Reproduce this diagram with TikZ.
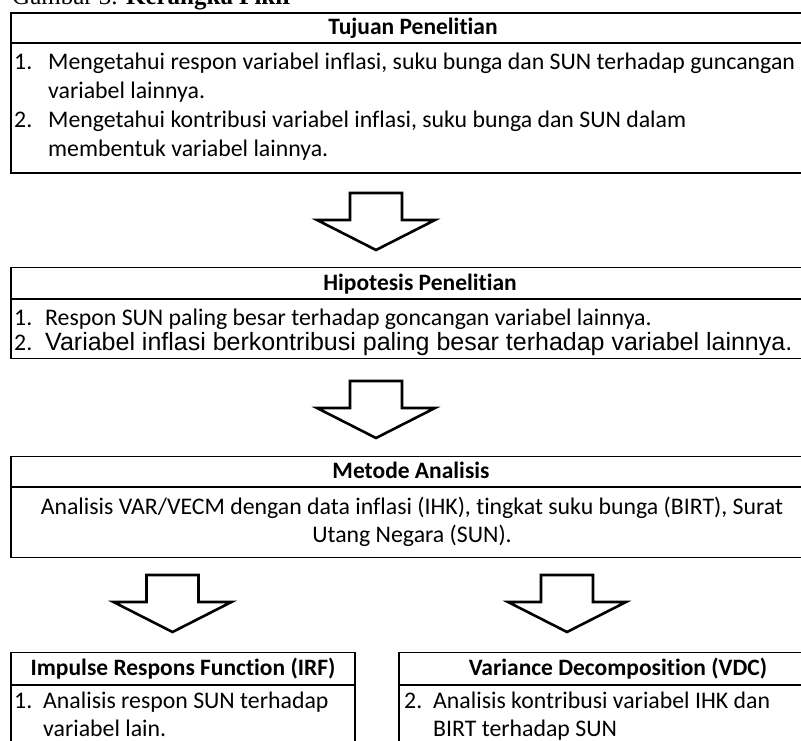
\documentclass[tikz,border=0pt]{standalone}
\usepackage{fontspec}
\setmainfont{Carlito}[Ligatures={NoCommon}]
\newfontfamily\arialfont{Liberation Sans}
\newfontfamily\timesfont{Liberation Serif}
\begin{document}
\begin{tikzpicture}[x=1pt,y=-1pt,
  box/.style={draw=black, line width=1.6pt, inner sep=0pt, outer sep=0pt, anchor=north west},
  sepline/.style={draw=black, line width=1.6pt},
  hdr/.style={font=\fontsize{23.5}{28}\selectfont\bfseries, anchor=base, inner sep=0pt},
  txt/.style={font=\fontsize{23.8}{28}\selectfont, anchor=base west, inner sep=0pt},
  ctxt/.style={font=\fontsize{23.8}{28}\selectfont, anchor=base, inner sep=0pt},
  barrow/.style={draw=black, line width=2.6pt, fill=white, line join=miter},
  blockarrow/.pic={\draw[barrow] (-26,0) -- (-26,27) -- (-59,27) -- (0,57) -- (59,27) -- (26,27) -- (26,0) -- cycle;}
]
\useasboundingbox (0,0) rectangle (801,741);
\clip (0,0) rectangle (801,741);

% caption (cut off at the top)
\node[anchor=base west, inner sep=0pt, font=\timesfont\fontsize{25}{30}\selectfont] (caption) at (12,5) {Gambar 3. \textbf{Kerangka Pikir}};

% Tujuan Penelitian
\node[box, minimum width=804pt, minimum height=160pt] (tujuan) at (11,13) {};
\draw[sepline] ([yshift=-30pt]tujuan.north west) -- ([yshift=-30pt]tujuan.north east);
\node[hdr] (tujuanH) at (413,35) {Tujuan Penelitian};
\node[txt] (t1n) at (14,70) {1.};
\node[txt] (t1a) at (48,70) {Mengetahui respon variabel inflasi, suku bunga dan SUN terhadap guncangan};
\node[txt] (t1b) at (48,99) {variabel lainnya.};
\node[txt] (t2n) at (14,128) {2.};
\node[txt] (t2a) at (48,128) {Mengetahui kontribusi variabel inflasi, suku bunga dan SUN dalam};
\node[txt] (t2b) at (48,157) {membentuk variabel lainnya.};

\pic (arrowA) at (376,193) {blockarrow};

% Hipotesis Penelitian
\node[box, minimum width=804pt, minimum height=91pt] (hipotesis) at (11,267.5) {};
\draw[sepline] ([yshift=-31.5pt]hipotesis.north west) -- ([yshift=-31.5pt]hipotesis.north east);
\node[hdr] (hipotesisH) at (420,290) {Hipotesis Penelitian};
\node[txt] (h1n) at (14,325) {1.};
\node[txt] (h1a) at (45,325) {Respon SUN paling besar terhadap goncangan variabel lainnya.};
\node[txt] (h2n) at (14,350) {2.};
\node[anchor=base west, inner sep=0pt, font=\arialfont\fontsize{25}{28}\selectfont] (h2a) at (45,350) {Variabel inflasi berkontribusi paling besar terhadap variabel lainnya.};

\pic (arrowB) at (376,381) {blockarrow};

% Metode Analisis
\node[box, minimum width=804pt, minimum height=101pt] (metode) at (11,456.5) {};
\draw[sepline] ([yshift=-30.5pt]metode.north west) -- ([yshift=-30.5pt]metode.north east);
\node[hdr] (metodeH) at (411,478) {Metode Analisis};
\node[ctxt] (m1) at (412,514) {Analisis VAR/VECM dengan data inflasi (IHK), tingkat suku bunga (BIRT), Surat};
\node[ctxt] (m2) at (412,542) {Utang Negara (SUN).};

\pic (arrowC) at (172.5,575) {blockarrow};
\pic (arrowD) at (567,575) {blockarrow};

% IRF
\node[box, minimum width=344pt, minimum height=120pt] (irf) at (11,652.5) {};
\draw[sepline] ([yshift=-32.5pt]irf.north west) -- ([yshift=-32.5pt]irf.north east);
\node[hdr] (irfH) at (183,675) {Impulse Respons Function (IRF)};
\node[txt] (i1n) at (14,708) {1.};
\node[txt] (i1a) at (43,708) {Analisis respon SUN terhadap};
\node[txt] (i1b) at (43,736) {variabel lain.};

% VDC
\node[box, minimum width=446pt, minimum height=120pt] (vdc) at (399,652.5) {};
\draw[sepline] ([yshift=-32.5pt]vdc.north west) -- ([yshift=-32.5pt]vdc.north east);
\node[hdr] (vdcH) at (618,675) {Variance Decomposition (VDC)};
\node[txt] (v1n) at (404,708) {2.};
\node[txt] (v1a) at (433,708) {Analisis kontribusi variabel IHK dan};
\node[txt] (v1b) at (433,736) {BIRT terhadap SUN};
\end{tikzpicture}
\end{document}
